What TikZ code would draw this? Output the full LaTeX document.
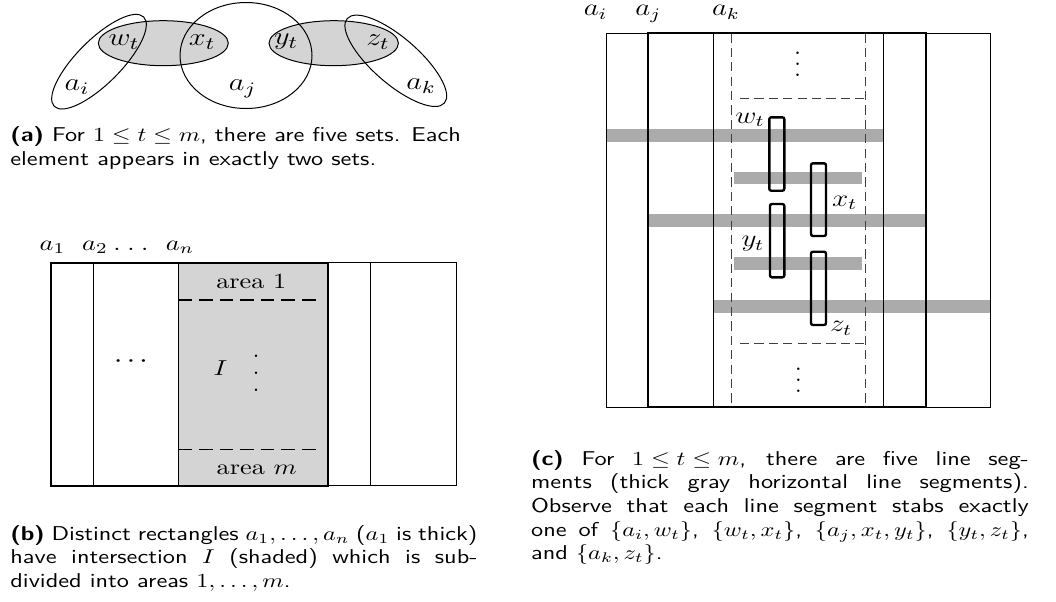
\RequirePackage{fix-cm}
\documentclass[tikz,border=0pt]{standalone}
\usepackage{graphicx}
\newcommand{\myvdots}[1]{\vbox{\baselineskip=#1\lineskiplimit=-5pt\hbox{.}\hbox{.}\hbox{.}}}
\newcommand{\hs}[1]{\scalebox{1.215}[1]{#1}}
\tikzset{
  thinln/.style={line width=0.5pt},
  thickln/.style={line width=1pt},
  shadefill/.style={fill=black!17},
  band/.style={line width=6.3pt, draw=black!33},
  stab/.style={line width=1.2pt, rounded corners=1pt},
  dshb/.style={dash pattern=on 6.8pt off 3.5pt, line width=0.8pt},
  dshc/.style={dash pattern=on 4.6pt off 2.6pt, line width=0.5pt, draw=black!75},
  lab/.style={inner sep=0pt},
  fa/.style={lab, font=\fontsize{12.5}{15}\selectfont},
  fb/.style={lab, font=\fontsize{10.8}{13}\selectfont},
  fc/.style={lab, font=\fontsize{12}{14}\selectfont},
  capt/.style={inner sep=0pt, anchor=base west, font=\sffamily\fontsize{10}{11.85}\selectfont},
}
\begin{document}
\begin{tikzpicture}[x=0.5pt,y=-0.5pt]
\useasboundingbox (0,0) rectangle (1056,601);

% ---------- (a) ----------
\draw[thinln, shadefill] (163.3,43.2) ellipse [x radius=32.5pt, y radius=11.25pt];
\draw[thinln, shadefill] (333.7,43.2) ellipse [x radius=32.35pt, y radius=11.25pt];
\draw[thinln] (246,55.5) ellipse [x radius=33pt, y radius=26.5pt];
\draw[thinln, rotate around={45:(99,61.7)}] (99,61.7) ellipse [x radius=31.6pt, y radius=11pt];
\draw[thinln, rotate around={-41:(395.8,60.8)}] (395.8,60.8) ellipse [x radius=32.2pt, y radius=11.5pt];
\node[fa] (wa) at (124,42) {\hs{$w_t$}};
\node[fa] (xa) at (202,42) {\hs{$x_t$}};
\node[fa] (ya) at (286,42) {\hs{$y_t$}};
\node[fa] (za) at (378,42) {\hs{$z_t$}};
\node[fa] (ai) at (77,87) {\hs{$a_i$}};
\node[fa] (aj) at (242.5,89) {\hs{$a_j$}};
\node[fa] (ak) at (421,86) {\hs{$a_k$}};

\node[capt] (capa) at (10,141.7)
  {\hs{\parbox[t]{200pt}{\textbf{(a)} For ${1\le t\le m}$, there are five sets. Each\\element appears in exactly two sets.}}};

% ---------- (b) ----------
\fill[shadefill] (178.3,262.7) rectangle (328.3,485.7);
\draw[thinln] (93.3,262.7) rectangle (370.7,485.7);
\draw[thinln] (178.3,262.7) rectangle (456,485.7);
\coordinate (d1s) at (178.3,300);
\coordinate (d1e) at (318,300);
\coordinate (d2s) at (178.3,449.3);
\coordinate (d2e) at (318,449.3);
\draw[dshb] (d1s) -- (d1e);
\draw[dshb] (d2s) -- (d2e);
\draw[thickln] (50.7,262.7) rectangle (328.3,485.7);
\node[fb, anchor=base] (b1) at (52.5,250.5) {\hs{$a_1$}};
\node[fb, anchor=base] (b2) at (95,250.5) {\hs{$a_2$}};
\node[fb, anchor=base] (bd) at (131,250.5) {\hs{.\kern2.7pt.\kern2.7pt.}};
\node[fb, anchor=base] (bn) at (180,250.5) {\hs{$a_n$}};
\node[fb, anchor=base] (ar1) at (251.3,288.3) {\hs{area 1}};
\node[fb, anchor=base] (arm) at (256.7,474) {\hs{area $m$}};
\node[fb, font=\fontsize{13}{15}\selectfont] (bc) at (131,361.7) {\hs{${\cdot}\kern1.6pt{\cdot}\kern1.6pt{\cdot}$}};
\node[fb, anchor=base] (bI) at (220.3,375) {\hs{$I$}};
\node[fb, font=\fontsize{15}{17}\selectfont] (bv) at (256,373.3) {\myvdots{8.3pt}};

\node[capt] (capb) at (10,540)
  {\hs{\parbox[t]{192.2pt}{\textbf{(b)} Distinct rectangles $a_1,\ldots,a_n$ ($a_1$ is thick)\linebreak
   have intersection $I$ (shaded) which is sub-\linebreak
   divided into areas $1,\ldots,m$.}}};

% ---------- (c) ----------
\draw[band] (606,135.7) -- (883.3,135.7);
\draw[band] (734,178) -- (862.3,178);
\draw[band] (648.3,220.5) -- (926,220.5);
\draw[band] (734,263.7) -- (862.3,263.7);
\draw[band] (713,306.3) -- (990,306.3);
\draw[thinln] (606,33.3) rectangle (990,407.3);
\draw[thinln] (713,33.3) rectangle (883.3,407.3);
\coordinate (cl1) at (731.5,33.3);
\coordinate (cl2) at (731.5,407.3);
\coordinate (cr1) at (865,33.3);
\coordinate (cr2) at (865,407.3);
\draw[dshc] (cl1) -- (cl2);
\draw[dshc] (cr1) -- (cr2);
\coordinate (ht1) at (740,98.3);
\coordinate (ht2) at (865,98.3);
\coordinate (hb1) at (740,343.7);
\coordinate (hb2) at (865,343.7);
\draw[dshc] (ht1) -- (ht2);
\draw[dshc] (hb1) -- (hb2);
\draw[thickln] (648.3,33.3) rectangle (926,407.3);
\draw[stab] (769.3,117.3) rectangle (784.3,190.7);
\draw[stab] (811,163.3) rectangle (826,236);
\draw[stab] (770,204) rectangle (784.3,277.3);
\draw[stab] (811,251.7) rectangle (826,325);
\node[fc, anchor=base] (ci) at (595.5,15.5) {\hs{$a_i$}};
\node[fc, anchor=base] (cj) at (648.3,15.5) {\hs{$a_j$}};
\node[fc, anchor=base] (ck) at (725.8,15.5) {\hs{$a_k$}};
\node[fc, anchor=base] (cw) at (750,123.3) {\hs{$w_t$}};
\node[fc, anchor=base] (cx) at (844.5,206) {\hs{$x_t$}};
\node[fc, anchor=base] (cy) at (752.8,246.7) {\hs{$y_t$}};
\node[fc, anchor=base] (cz) at (841,331.7) {\hs{$z_t$}};
\node[fc, font=\fontsize{13}{15}\selectfont] (cv1) at (797.7,64.3) {\myvdots{5.5pt}};
\node[fc, font=\fontsize{13}{15}\selectfont] (cv2) at (798.3,380.3) {\myvdots{5.5pt}};

\node[capt] (capc) at (530.7,465)
  {\hs{\parbox[t]{204.8pt}{\textbf{(c)} For ${1\le t\le m}$, there are five line seg-\linebreak
   ments (thick gray horizontal line segments).\linebreak
   Observe that each line segment stabs exactly\linebreak
   one of $\{a_i,w_t\}$, $\{w_t,x_t\}$, $\{a_j,x_t,y_t\}$, $\{y_t,z_t\}$,\linebreak
   and $\{a_k,z_t\}$.}}};
\end{tikzpicture}
\end{document}
